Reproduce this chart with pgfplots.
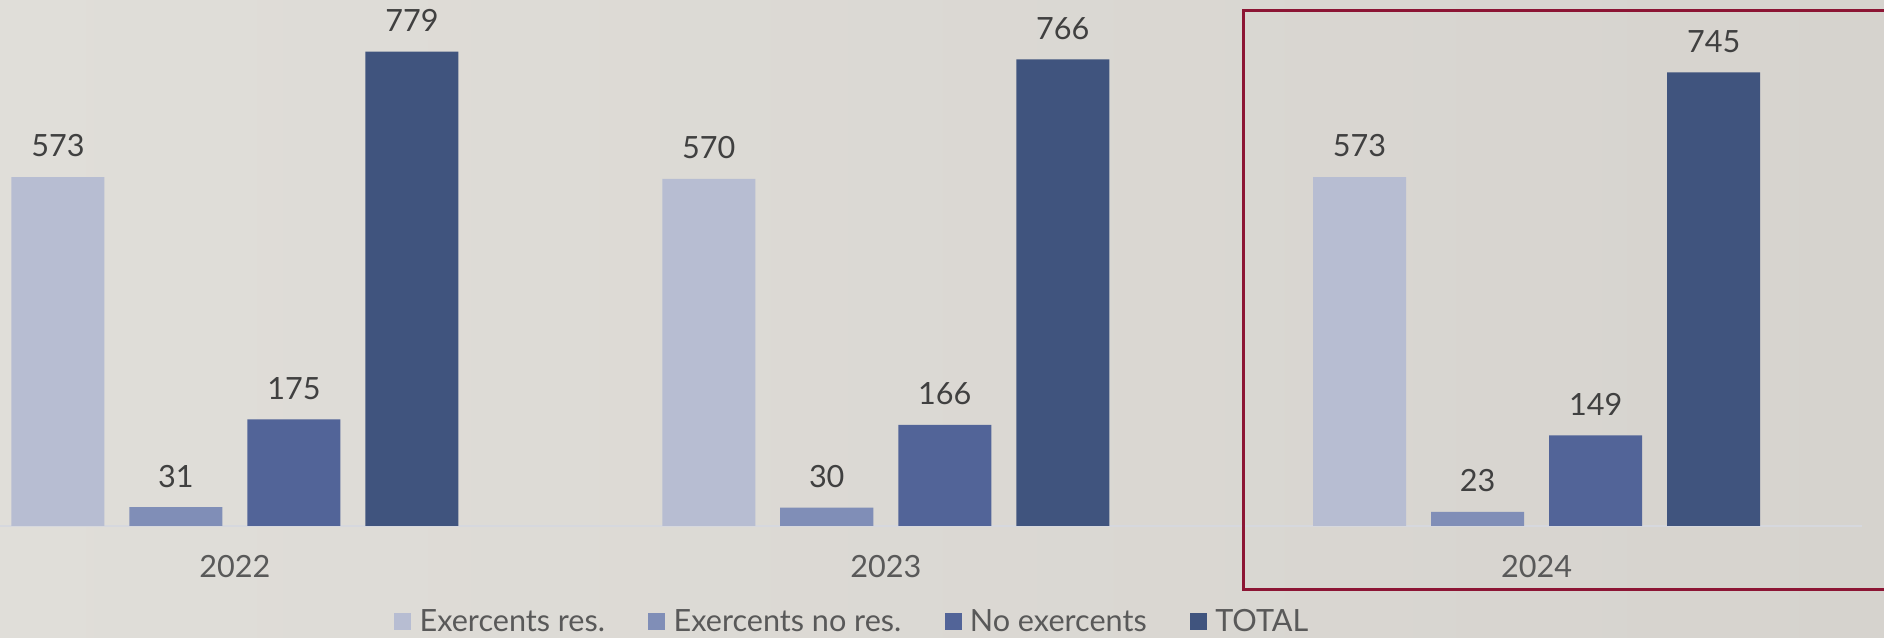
\documentclass[border=0pt]{standalone}
\usepackage{pgfplots}
\pgfplotsset{compat=1.18}
\usepackage{fontspec}
\setmainfont{Lato}

\definecolor{bgl}{RGB}{224,222,217}
\definecolor{bgm}{RGB}{227,225,220}
\definecolor{bgr}{RGB}{214,211,206}
\definecolor{cA}{RGB}{183,189,210}
\definecolor{cB}{RGB}{128,142,183}
\definecolor{cC}{RGB}{82,100,152}
\definecolor{cD}{RGB}{64,84,126}
\definecolor{frame}{RGB}{140,21,52}
\definecolor{tick}{RGB}{89,89,89}
\definecolor{lab}{RGB}{64,64,64}
\definecolor{xline}{RGB}{214,216,222}

\pgfplotsset{
  legsq/.style={legend image code/.code={\fill[##1, draw=none] (0pt,-4.25pt) rectangle (8.5pt,4.25pt);}},
}

\begin{document}
\begin{tikzpicture}
\path[use as bounding box] (0,0) rectangle (942pt,318.5pt);
\shade[left color=bgl, middle color=bgm, right color=bgr] (0,0) rectangle (942pt,318.5pt);
\begin{axis}[
    at={(0pt,55.5pt)}, anchor=south west,
    scale only axis, width=931pt, height=263pt,
    xmin=-0.361, xmax=2.5, ymin=0, ymax=863.7,
    enlargelimits=false,
    ybar, bar width=0.1429,
    axis y line=none, axis x line*=bottom,
    x axis line style={-, draw=xline, line width=0.75pt},
    xtick={0,1,2}, xticklabels={2022,2023,2024},
    major tick length=0pt,
    xticklabel style={anchor=north, inner sep=0pt, yshift=-14.5pt, text=tick},
    font=\fontsize{15.3}{18}\selectfont,
    nodes near coords,
    every node near coord/.append style={anchor=south, inner sep=0pt, yshift=9.7pt, text=lab},
    /pgf/number format/assume math mode=true,
    clip=false,
    legend columns=-1,
    legend style={at={(axis description cs:0.2116,-0.1819)}, anchor=west,
      draw=none, fill=none, inner sep=0pt,
      nodes={inner sep=0pt, text=tick},
      /tikz/every odd column/.append style={column sep=4.1pt},
      /tikz/every even column/.append style={column sep=21.7pt}},
  ]
  \addplot[fill=cA, draw=none, bar shift=-0.272, legsq] coordinates {(0,573) (1,570) (2,573)};
  \addplot[fill=cB, draw=none, bar shift=-0.0907, legsq] coordinates {(0,31) (1,30) (2,23)};
  \addplot[fill=cC, draw=none, bar shift=0.0907, legsq] coordinates {(0,175) (1,166) (2,149)};
  \addplot[fill=cD, draw=none, bar shift=0.272, legsq] coordinates {(0,779) (1,766) (2,745)};
  \addlegendentry{Exercents res.}
  \addlegendentry{Exercents no res.}
  \addlegendentry{No exercents}
  \addlegendentry{TOTAL}
\end{axis}
\draw[frame, line width=1.5pt] (946pt,313.15pt) -- (621.5pt,313.15pt) -- (621.5pt,23.5pt) -- (946pt,23.5pt);
\end{tikzpicture}
\end{document}
